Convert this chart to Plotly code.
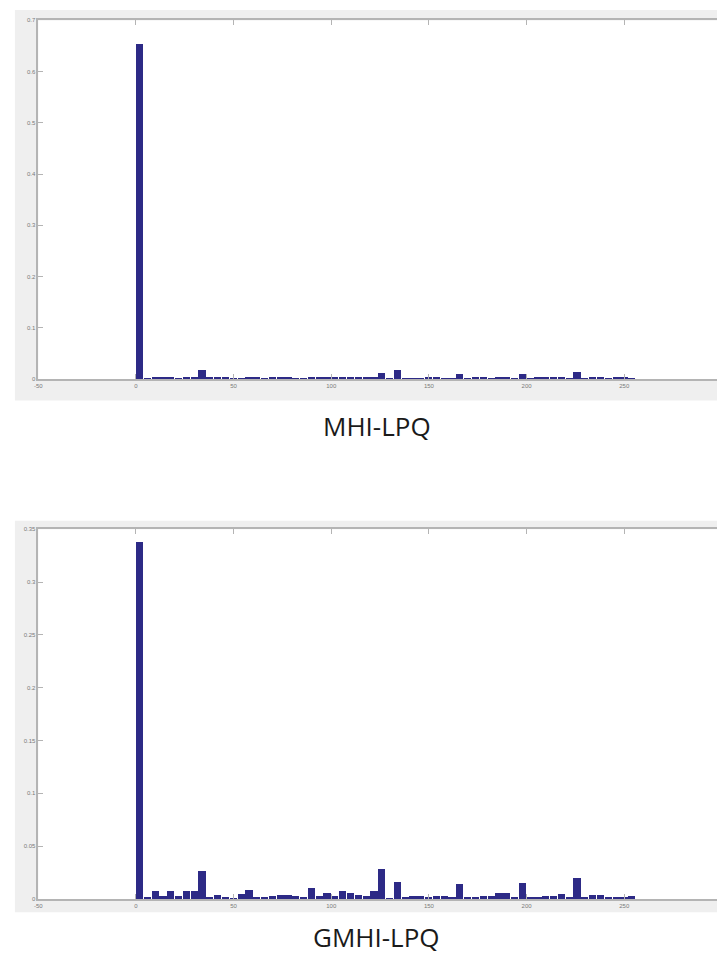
import plotly.graph_objects as go

# ---------------- data ----------------
bin_width = 4
bin_starts = list(range(0, 256, 4))   # 64 histogram bins
bin_centers = [s + bin_width / 2 for s in bin_starts]

mhi_lpq = [
    0.653, 0.0008, 0.0025, 0.003, 0.0025, 0.001, 0.0035, 0.002,
    0.0168, 0.0015, 0.0015, 0.0015, 0.0008, 0.001, 0.002, 0.002,
    0.001, 0.003, 0.0035, 0.003, 0.001, 0.0008, 0.002, 0.002,
    0.0015, 0.002, 0.0025, 0.0025, 0.002, 0.003, 0.003, 0.011,
    0.0005, 0.016, 0.001, 0.0008, 0.001, 0.0015, 0.0015, 0.001,
    0.0008, 0.0084, 0.001, 0.0015, 0.0015, 0.0008, 0.0015, 0.0015,
    0.0008, 0.0097, 0.0008, 0.002, 0.003, 0.003, 0.0015, 0.0008,
    0.0136, 0.001, 0.0015, 0.0015, 0.0008, 0.0015, 0.0015, 0.001,
]

gmhi_lpq = [
    0.338, 0.0013, 0.007, 0.003, 0.007, 0.0025, 0.0072, 0.007,
    0.026, 0.002, 0.004, 0.0015, 0.0008, 0.005, 0.0088, 0.002,
    0.002, 0.003, 0.0037, 0.0037, 0.003, 0.0015, 0.010, 0.003,
    0.0056, 0.0025, 0.0072, 0.0055, 0.0037, 0.003, 0.007, 0.028,
    0.0006, 0.0157, 0.002, 0.003, 0.0025, 0.001, 0.003, 0.003,
    0.001, 0.014, 0.0013, 0.002, 0.003, 0.003, 0.0056, 0.0056,
    0.0013, 0.015, 0.002, 0.002, 0.0025, 0.0025, 0.0044, 0.001,
    0.0194, 0.001, 0.0037, 0.0037, 0.0015, 0.002, 0.002, 0.003,
]

x_ticks = [-50, 0, 50, 100, 150, 200, 250, 300]
top_y_ticks = [0, 0.1, 0.2, 0.3, 0.4, 0.5, 0.6, 0.7]
top_y_labels = ["0", "0.1", "0.2", "0.3", "0.4", "0.5", "0.6", "0.7"]
bot_y_ticks = [0, 0.05, 0.1, 0.15, 0.2, 0.25, 0.3, 0.35]
bot_y_labels = ["0", "0.05", "0.1", "0.15", "0.2", "0.25", "0.3", "0.35"]
titles = ["MHI-LPQ", "GMHI-LPQ"]

# ---------------- figure ----------------
W, H = 717, 956
bar_color = "#2d2a86"
axis_grey = "#b4b4b4"
tick_font = dict(family="Liberation Sans", size=6, color="#7a7a7a")

fig = go.Figure()
fig.add_trace(go.Bar(x=bin_centers, y=mhi_lpq, width=bin_width * 0.92,
                     marker=dict(color=bar_color, line=dict(width=0)),
                     xaxis="x", yaxis="y", showlegend=False))
fig.add_trace(go.Bar(x=bin_centers, y=gmhi_lpq, width=bin_width * 0.92,
                     marker=dict(color=bar_color, line=dict(width=0)),
                     xaxis="x2", yaxis="y2", showlegend=False))

def px(x):
    return x / W

def py(y):
    return 1 - y / H

x_dom = [px(34.5), 1.0]
top_dom = [py(378.3), py(17.5)]
bot_dom = [py(901.7), py(529.5)]
x_range = [-50, -50 + (W - 34.5) / 1.964]

common_x = dict(range=x_range, tickvals=x_ticks, ticktext=[str(v) for v in x_ticks],
                ticks="inside", ticklen=5, tickcolor=axis_grey, tickwidth=1,
                showline=True, linecolor=axis_grey, linewidth=1.5, mirror="ticks",
                showgrid=False, zeroline=False, tickfont=tick_font, domain=x_dom)
common_y = dict(ticks="inside", ticklen=5, tickcolor=axis_grey, tickwidth=1,
                showline=True, linecolor=axis_grey, linewidth=1.5, mirror=False,
                showgrid=False, zeroline=False, tickfont=tick_font)

fig.update_layout(
    width=W, height=H,
    margin=dict(l=0, r=0, t=0, b=0),
    paper_bgcolor="white",
    plot_bgcolor="white",
    bargap=0,
    xaxis=dict(anchor="y", **common_x),
    yaxis=dict(anchor="x", domain=top_dom, range=[0, 0.7], tickvals=top_y_ticks,
               ticktext=top_y_labels, **common_y),
    xaxis2=dict(anchor="y2", **common_x),
    yaxis2=dict(anchor="x2", domain=bot_dom, range=[0, 0.35], tickvals=bot_y_ticks,
                ticktext=bot_y_labels, **common_y),
)

# grey figure backgrounds (MATLAB style) with white axes areas on top
shapes = []
for (gy0, gy1), dom in [((7, 400), top_dom), ((521, 915), bot_dom)]:
    shapes.append(dict(type="rect", xref="paper", yref="paper", layer="below",
                       x0=px(11), x1=1.0, y0=py(gy1), y1=py(gy0),
                       fillcolor="#efefef", line=dict(width=0)))
    shapes.append(dict(type="rect", xref="paper", yref="paper", layer="below",
                       x0=x_dom[0], x1=1.0, y0=dom[0], y1=dom[1],
                       fillcolor="white", line=dict(width=0)))
fig.update_layout(shapes=shapes)

for title, ycen in zip(titles, [426, 940]):
    fig.add_annotation(text=title, xref="paper", yref="paper", x=px(375), y=py(ycen),
                       showarrow=False, xanchor="center", yanchor="middle",
                       font=dict(family="Open Sans", size=26, color="#1a1a1a"))

fig.write_html(
    "out.html",
    config={"displayModeBar": False},
    post_script="document.body.style.margin='0';document.body.style.padding='0';"
                "document.documentElement.style.overflow='hidden';",
)
